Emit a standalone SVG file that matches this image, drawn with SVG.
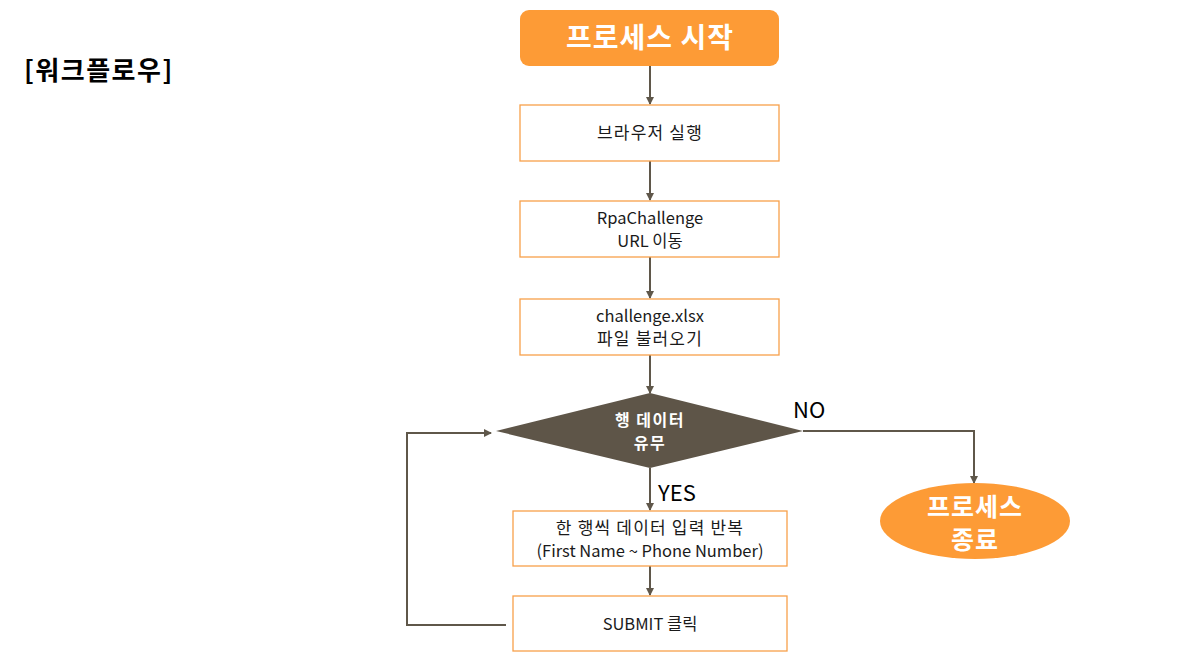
<svg xmlns="http://www.w3.org/2000/svg" width="1177" height="661" viewBox="0 0 1177 661">
<defs>
<style>
.t{font-family:"Noto Sans CJK KR","Noto Sans",sans-serif;}
.box{fill:#fff;stroke:#F7A04A;stroke-width:1.3;}
.lbl{font-size:16.5px;fill:#1a1a1a;text-anchor:middle;}
.ko{font-size:17px;letter-spacing:1.2px;}
.wb{fill:#fff;font-weight:bold;text-anchor:middle;}
.con{fill:none;stroke:#5F574A;stroke-width:2;}
</style>
<marker id="ah" markerWidth="8" markerHeight="8" refX="7" refY="4" orient="auto" markerUnits="userSpaceOnUse">
<path d="M0,0 L8,4 L0,8 z" fill="#5F574A"/>
</marker>
</defs>
<rect width="1177" height="661" fill="#fff"/>
<g id="title"><text class="t" x="24" y="80" font-size="26" font-weight="bold" letter-spacing="1.5" fill="#000">[워크플로우]</text></g>
<g id="connectors">
<line class="con" x1="650" y1="66" x2="650" y2="104" marker-end="url(#ah)"/>
<line class="con" x1="650" y1="161" x2="650" y2="200" marker-end="url(#ah)"/>
<line class="con" x1="650" y1="257" x2="650" y2="298" marker-end="url(#ah)"/>
<line class="con" x1="650" y1="355" x2="650" y2="393" marker-end="url(#ah)"/>
<polyline class="con" points="803,431 974,431 974,483" marker-end="url(#ah)"/>
<line class="con" x1="650" y1="468" x2="650" y2="510" marker-end="url(#ah)"/>
<line class="con" x1="650" y1="566" x2="650" y2="595" marker-end="url(#ah)"/>
<polyline class="con" points="506,625 407,625 407,433 491,433" marker-end="url(#ah)"/>
<text class="t" x="793" y="418" font-size="22" fill="#000">NO</text>
<text class="t" x="658" y="501" font-size="22" fill="#000">YES</text>
</g>
<g id="start">
<rect x="520" y="10" width="259" height="56" rx="9" fill="#FD9B36"/>
<text class="t wb" x="650" y="48" font-size="28" letter-spacing="1">프로세스 시작</text>
</g>
<g id="browser">
<rect class="box" x="520" y="105" width="259" height="56"/>
<text class="t lbl ko" x="650" y="139">브라우저 실행</text>
</g>
<g id="url">
<rect class="box" x="520" y="201" width="259" height="56"/>
<text class="t lbl" x="650" y="224">RpaChallenge</text>
<text class="t lbl" x="650" y="247">URL 이동</text>
</g>
<g id="file">
<rect class="box" x="520" y="299" width="259" height="56"/>
<text class="t lbl" x="650" y="322">challenge.xlsx</text>
<text class="t lbl ko" x="650" y="345">파일 불러오기</text>
</g>
<g id="decision">
<polygon points="496,431 650,393 803,431 650,468" fill="#5E5548"/>
<text class="t wb" x="650" y="426" font-size="16" letter-spacing="1.5">행 데이터</text>
<text class="t wb" x="650" y="449" font-size="16" letter-spacing="1.5">유무</text>
</g>
<g id="end">
<ellipse cx="975" cy="521" rx="95" ry="38" fill="#FD9B36"/>
<text class="t wb" x="975" y="516" font-size="25" letter-spacing="1">프로세스</text>
<text class="t wb" x="975" y="549" font-size="25" letter-spacing="1">종료</text>
</g>
<g id="input">
<rect class="box" x="513" y="511" width="274" height="55"/>
<text class="t lbl ko" x="650" y="534">한 행씩 데이터 입력 반복</text>
<text class="t lbl" x="650" y="557">(First Name ~ Phone Number)</text>
</g>
<g id="submit">
<rect class="box" x="513" y="596" width="274" height="55"/>
<text class="t lbl" x="650" y="630">SUBMIT 클릭</text>
</g>
</svg>
